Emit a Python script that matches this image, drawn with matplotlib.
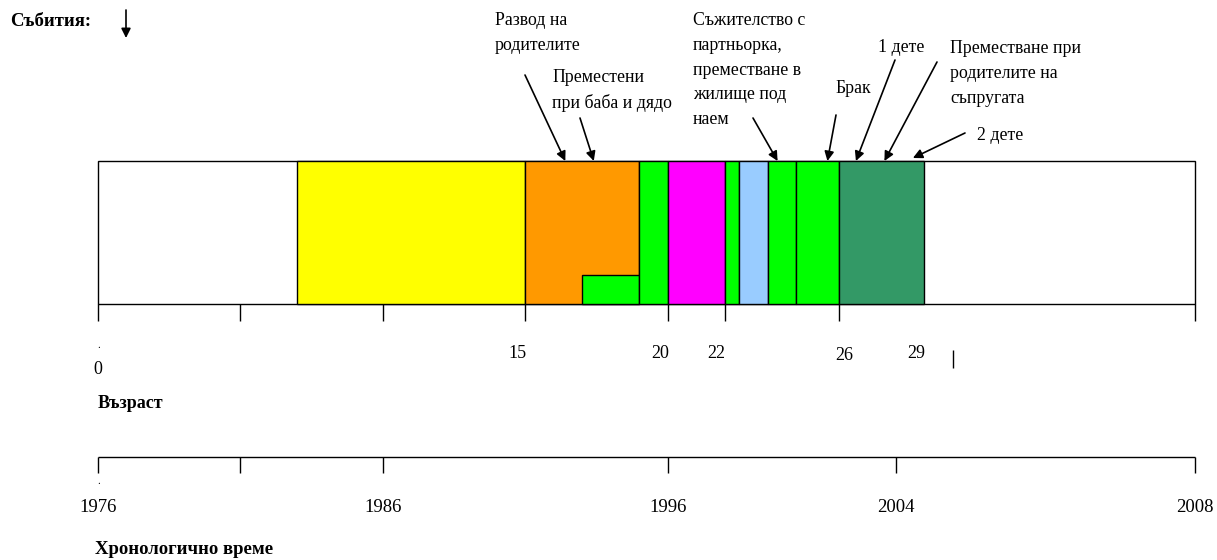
import matplotlib.pyplot as plt
from matplotlib.patches import Rectangle

plt.rcParams['font.family'] = ['Liberation Serif', 'DejaVu Serif']

# Life periods on the age scale (years)
period_start = [7, 15, 17, 19, 20, 22, 22.5, 23.5, 24.5, 26]
period_end = [15, 19, 19, 20, 22, 22.5, 23.5, 24.5, 26, 29]
period_color = ['#FFFF00', '#FF9900', '#00FF00', '#00FF00', '#FF00FF',
                '#00FF00', '#99CCFF', '#00FF00', '#00FF00', '#339966']
period_share = [1, 1, 0.2, 1, 1, 1, 1, 1, 1, 1]  # share of bar height
age_end = 38.5

# Events and the age they point at
event_text = ['Развод на\nродителите',
              'Преместени\nпри баба и дядо',
              'Съжителство с\nпартньорка,\nпреместване в\nжилище под\nнаем',
              'Брак',
              '1 дете',
              'Преместване при\nродителите на\nсъпругата',
              '2 дете']
event_age = [16.4, 17.4, 23.85, 25.6, 26.6, 27.6, 28.6]

# Axes ticks and labels
age_ticks = [0, 5, 10, 15, 20, 22, 26, age_end]
age_label_pos = [0, 15, 20, 22, 26, 29]
age_label_text = ['0', '15', '20', '22', '26', '29']
year_ticks = [0, 5, 10, 20, 28, age_end]
year_text = ['1976', '', '1986', '1996', '2004', '2008']

# --- layout (image pixels) ---
W, H = 1217, 560
left_px, right_px = 98, 1195
bar_top, bar_bot = 161, 304
scale = (right_px - left_px) / age_end

fig = plt.figure(figsize=(W / 100, H / 100), dpi=100)
ax = fig.add_axes([0, 0, 1, 1])
ax.set_xlim(-left_px / scale, (W - left_px) / scale)
ax.set_ylim(H, 0)
ax.axis('off')


def px(x):
    return (x - left_px) / scale


# Bar
ax.add_patch(Rectangle((0, bar_top), age_end, bar_bot - bar_top,
                       facecolor='white', edgecolor='black', lw=1))
for s, e, c, h in zip(period_start, period_end, period_color, period_share):
    hh = (bar_bot - bar_top) * h
    ax.add_patch(Rectangle((s, bar_bot - hh), e - s, hh,
                           facecolor=c, edgecolor='black', lw=1))

# Age axis
ax.vlines(age_ticks, bar_bot, bar_bot + 17, color='black', lw=1)
ax.vlines(30, 350, 368, color='black', lw=1)
label_shift = [0, -0.28, -0.28, -0.3, 0.2, -0.3]
label_y = [370, 354, 354, 354, 356, 354]
for a, t, dx, y in zip(age_label_pos, age_label_text, label_shift, label_y):
    ax.text(a + dx, y, t, ha='center', va='center', fontsize=13)
ax.text(px(99), 345, '.', ha='center', va='center', fontsize=8)
ax.text(px(98), 403, 'Възраст', ha='left', va='center', fontsize=13,
        fontweight='bold')

# Chronological axis
ax.hlines(457, 0, age_end, color='black', lw=1)
ax.vlines(year_ticks, 457, 473, color='black', lw=1)
for a, t in zip(year_ticks, year_text):
    ax.text(a, 507, t, ha='center', va='center', fontsize=13.5)
ax.text(px(99), 482, '.', ha='center', va='center', fontsize=8)
ax.text(px(95), 550, 'Хронологично време', ha='left', va='center',
        fontsize=13.5, fontweight='bold')

# Events header
ax.text(px(10), 22, 'Събития:', ha='left', va='center', fontsize=13.5,
        fontweight='bold')
ax.annotate('', xy=(px(126), 38), xytext=(px(126), 10),
            arrowprops=dict(arrowstyle='-|>', color='black', lw=1.2,
                            mutation_scale=14, shrinkA=0, shrinkB=0))

# Event labels and arrows
text_pos = [(495, 12), (552, 69), (693, 12), (835, 80), (878, 39),
            (950, 40), (977, 127)]
tail_pos = [(525, 75), (580, 118), (753, 118), (836, 115), (895, 60),
            (937, 62), (965, 133)]
for txt, a, (tx, ty), (ax_, ay) in zip(event_text, event_age, text_pos,
                                      tail_pos):
    ax.text(px(tx), ty, txt, ha='left', va='top', fontsize=12.8,
            linespacing=1.6)
    tip_y = bar_top - 3 if txt == '2 дете' else bar_top
    ax.annotate('', xy=(a, tip_y), xytext=(px(ax_), ay),
                arrowprops=dict(arrowstyle='-|>', color='black', lw=1.2,
                                mutation_scale=14, shrinkA=0, shrinkB=0))

fig.savefig('out.png', dpi=100, facecolor='white')
